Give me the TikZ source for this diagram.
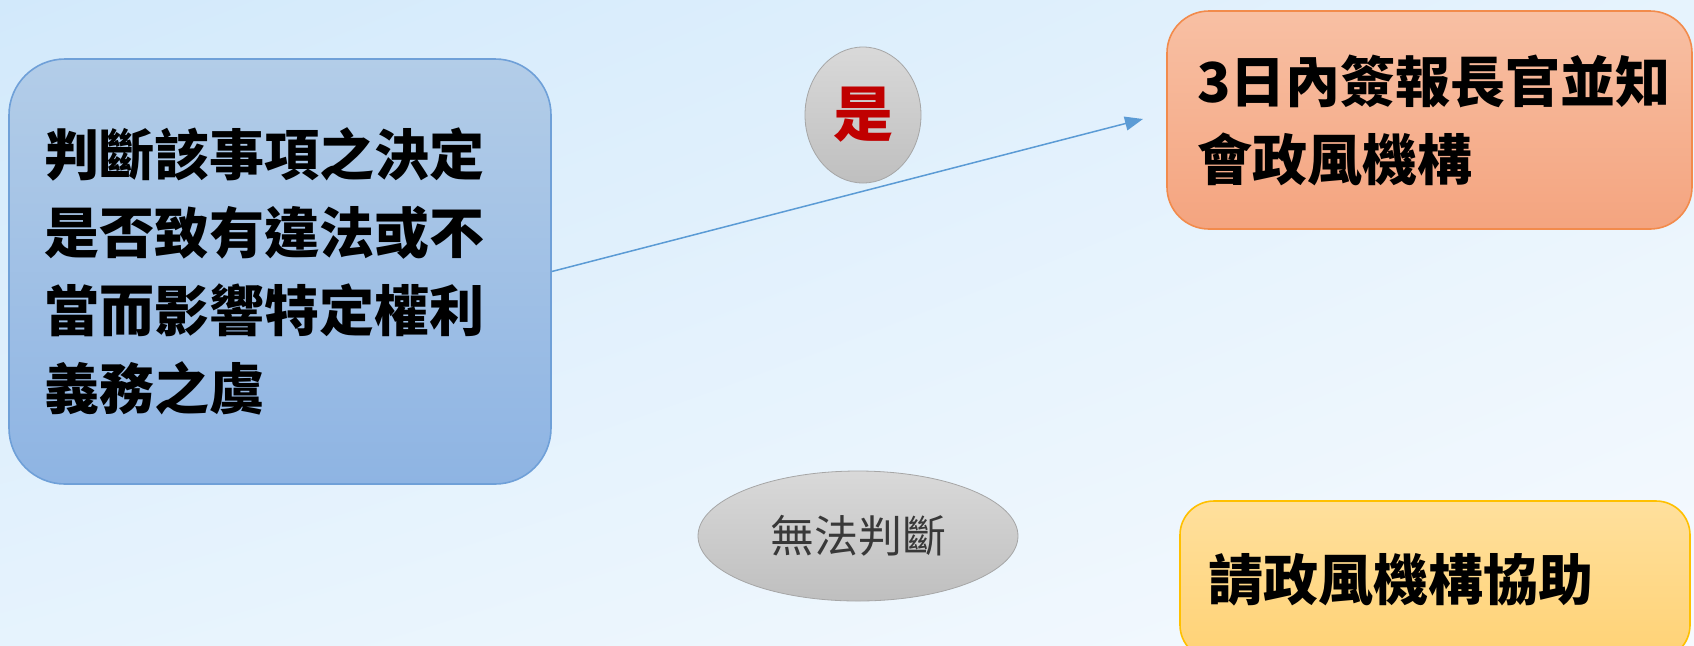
\documentclass[tikz,border=0pt]{standalone}
\usepackage{fontspec}
\usepackage{tikz}
\usetikzlibrary{shapes,shadings,arrows.meta,positioning}
\newfontfamily\cjk{Noto Sans CJK TC}
\definecolor{bgA}{HTML}{D2E9FB}
\definecolor{bgB}{HTML}{E6F3FD}
\definecolor{bgC}{HTML}{F6FAFE}
\definecolor{blueT}{HTML}{B3CDE8}
\definecolor{blueB}{HTML}{8EB4E3}
\definecolor{blueL}{HTML}{6FA0D8}
\definecolor{orgT}{HTML}{F8C0A4}
\definecolor{orgB}{HTML}{F4A47F}
\definecolor{orgL}{HTML}{F28B4C}
\definecolor{yelT}{HTML}{FFE09D}
\definecolor{yelB}{HTML}{FFD275}
\definecolor{yelL}{HTML}{FFC000}
\definecolor{grayT}{HTML}{D9D9D9}
\definecolor{grayB}{HTML}{BFBFBF}
\definecolor{arrowblue}{HTML}{5B9BD5}
\definecolor{yesred}{HTML}{C00000}
\tikzstyle{box} = [draw,thick,rectangle,inner sep=0,align=left,font=\cjk\bfseries\fontsize{27.5pt}{39pt}\selectfont]
\tikzstyle{bubble} = [draw=gray!70,ellipse,inner sep=0,top color=grayT,bottom color=grayB]
\tikzstyle{flow} = [-{Triangle[length=9pt,width=7pt]},line width=.75pt,draw=arrowblue,fill=arrowblue]
\def \gap {12pt}

\begin{document}
\begin{tikzpicture}[x=0.5pt,y=-0.5pt]
      \useasboundingbox (0,0) rectangle (1694,645);
      \clip (0,0) rectangle (1694,645);
      \shade[upper left=bgA,upper right=bgB,lower left=bgB,lower right=bgC] (0,0) rectangle (1694,645);
      % boxes
      \node[box,draw=blueL,top color=blueT,bottom color=blueB,rounded corners=28pt,
        minimum width=271pt,minimum height=212.5pt,text width=235pt] (judge) at (280,271.5)
        {判斷該事項之決定\\是否致有違法或不\\當而影響特定權利\\義務之虞};
      \node[box,draw=orgL,top color=orgT,bottom color=orgB,rounded corners=21pt,
        minimum width=262.5pt,minimum height=109pt,text width=232.5pt] (report) at (1429.5,120)
        {3日內簽報長官並知\\會政風機構};
      \node[box,draw=yelL,top color=yelT,bottom color=yelB,rounded corners=17pt,
        minimum width=255pt,minimum height=79pt,text width=227pt] (assist) at (1435,580)
        {請政風機構協助};
      % labels
      \node[bubble,minimum width=58pt,minimum height=68pt,text=yesred,
        font=\cjk\bfseries\fontsize{30pt}{30pt}\selectfont] (yes) at (863,115) {是};
      \node[bubble,minimum width=160pt,minimum height=65pt,text=black!78,
        font=\cjk\fontsize{22pt}{22pt}\selectfont] (unsure) at (858,536) {無法判斷};
      \draw[flow,shorten >=\gap] (judge.east) -- ([yshift=3.5pt]report.west);
    \end{tikzpicture}
\end{document}
